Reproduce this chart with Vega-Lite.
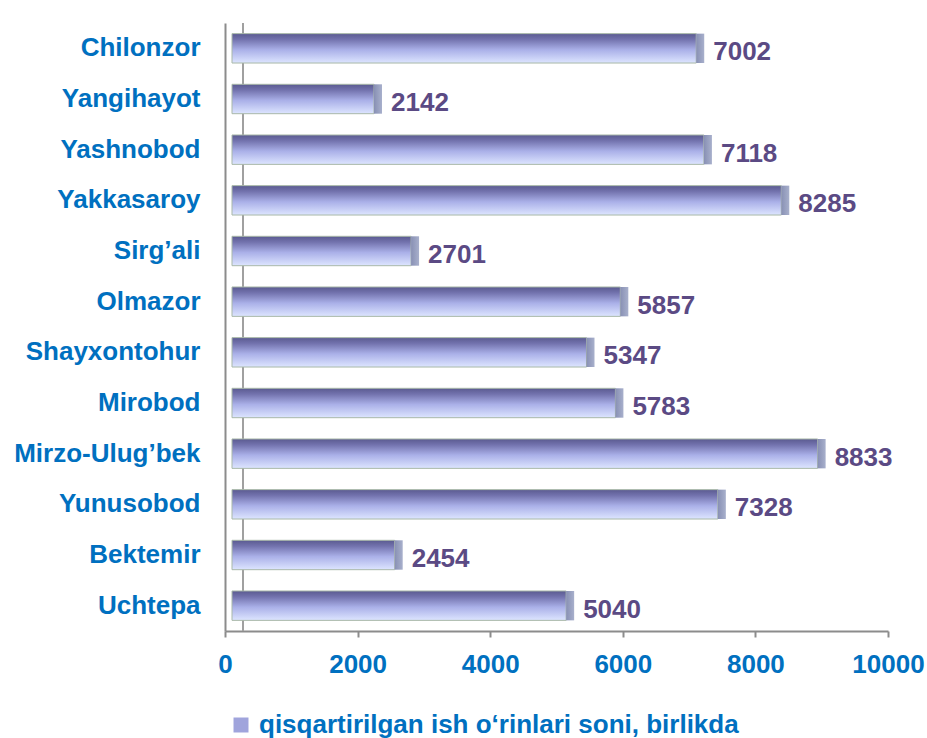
{
  "$schema": "https://vega.github.io/schema/vega-lite/v6.json",
  "width": 663,
  "height": 608,
  "autosize": {"type": "none"},
  "padding": {"left": 225, "top": 23, "right": 39, "bottom": 107},
  "background": "white",
  "data": {
    "values": [
      {"district": "Chilonzor", "value": 7002},
      {"district": "Yangihayot", "value": 2142},
      {"district": "Yashnobod", "value": 7118},
      {"district": "Yakkasaroy", "value": 8285},
      {"district": "Sirg’ali", "value": 2701},
      {"district": "Olmazor", "value": 5857},
      {"district": "Shayxontohur", "value": 5347},
      {"district": "Mirobod", "value": 5783},
      {"district": "Mirzo-Ulug’bek", "value": 8833},
      {"district": "Yunusobod", "value": 7328},
      {"district": "Bektemir", "value": 2454},
      {"district": "Uchtepa", "value": 5040}
    ]
  },
  "config": {
    "view": {"stroke": null},
    "font": "Liberation Sans"
  },
  "encoding": {
    "y": {
      "field": "district",
      "type": "nominal",
      "sort": null,
      "scale": {"paddingInner": 0.42, "paddingOuter": 0.21},
      "axis": {
        "title": null,
        "ticks": false,
        "labelPadding": 25,
        "labelLimit": 260,
        "labelFont": "Liberation Sans",
        "labelFontSize": 26,
        "labelFontWeight": "bold",
        "labelColor": "#0070c0",
        "domainColor": "#8c8c8c",
        "domainWidth": 2,
        "grid": false
      }
    }
  },
  "layer": [
    {
      "mark": {"type": "rule", "color": "#a0a0a0", "strokeWidth": 2, "xOffset": 18},
      "encoding": {"x": {"datum": 0, "type": "quantitative"}, "y": null}
    },
    {
      "mark": {
        "type": "bar",
        "xOffset": 7,
        "stroke": "#a9b8a9",
        "strokeWidth": 1,
        "color": {
          "gradient": "linear",
          "x1": 0, "y1": 0, "x2": 0, "y2": 1,
          "stops": [
            {"offset": 0, "color": "#5a5a90"},
            {"offset": 0.2, "color": "#7373ae"},
            {"offset": 0.55, "color": "#aab0e8"},
            {"offset": 1, "color": "#dde5ff"}
          ]
        }
      },
      "encoding": {
        "x": {
          "field": "value",
          "type": "quantitative",
          "scale": {"domain": [0, 10000], "nice": false},
          "axis": {
            "title": null,
            "values": [0, 2000, 4000, 6000, 8000, 10000],
            "format": "d",
            "grid": false,
            "tickColor": "#8c8c8c",
            "tickSize": 6,
            "tickWidth": 2,
            "domainColor": "#8c8c8c",
            "domainWidth": 2,
            "labelPadding": 14,
            "labelFont": "Liberation Sans",
            "labelFontSize": 26,
            "labelFontWeight": "bold",
            "labelColor": "#0070c0",
            "labelFlush": false
          }
        }
      }
    },
    {
      "mark": {
        "type": "bar",
        "xOffset": 7,
        "x2Offset": 15,
        "color": {
          "gradient": "linear",
          "x1": 0, "y1": 0, "x2": 1, "y2": 0,
          "stops": [
            {"offset": 0, "color": "#8890b4"},
            {"offset": 1, "color": "#a8b0cc"}
          ]
        }
      },
      "encoding": {
        "x": {"field": "value", "type": "quantitative"},
        "x2": {"field": "value"}
      }
    },
    {
      "mark": {
        "type": "text",
        "align": "left",
        "baseline": "middle",
        "dx": 24,
        "dy": 4,
        "font": "Liberation Sans",
        "fontSize": 26,
        "fontWeight": "bold",
        "color": "#5b4a84"
      },
      "encoding": {
        "x": {"field": "value", "type": "quantitative"},
        "text": {"field": "value", "type": "quantitative", "format": "d"}
      }
    },
    {
      "mark": {"type": "square", "opacity": 0, "size": 1},
      "encoding": {
        "x": {"datum": 0, "type": "quantitative"},
        "y": null,
        "color": {
          "datum": "qisqartirilgan ish o‘rinlari soni, birlikda",
          "type": "nominal",
          "scale": {"range": ["#a0a4dc"]},
          "legend": {
            "title": null,
            "orient": "none",
            "legendX": 3,
            "legendY": 689,
            "symbolType": "square",
            "symbolSize": 225,
            "symbolOpacity": 1,
            "symbolStrokeWidth": 0,
            "labelFont": "Liberation Sans",
            "labelFontSize": 26,
            "labelFontWeight": "bold",
            "labelColor": "#0070c0",
            "labelLimit": 700,
            "labelOffset": 5
          }
        }
      }
    }
  ]
}
